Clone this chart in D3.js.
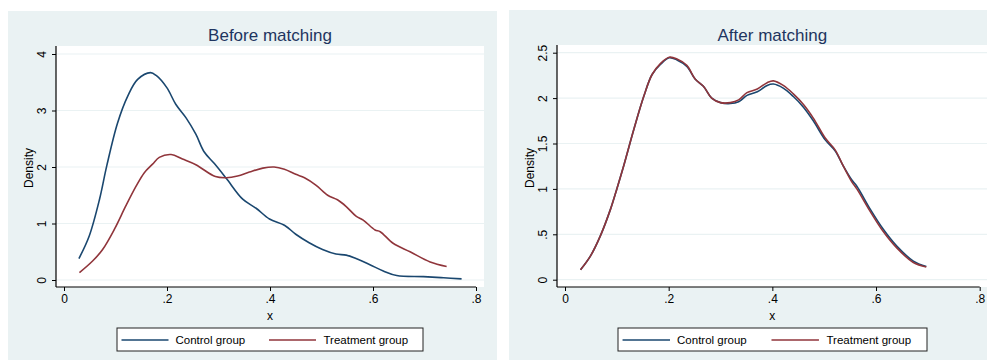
<!DOCTYPE html>
<html lang="en">
<head>
    <meta charset="UTF-8">
    <title>Kernel density before / after matching</title>
    <script src="https://d3js.org/d3.v7.min.js"></script>
    <style>
        body { margin: 0; background: #fff; }
        text { font-family: 'Liberation Sans', Arial, sans-serif; }
    </style>
</head>
<body>
<script>
    const width  = 987;
    const height = 360;

    const xTicks = [0, .2, .4, .6, .8];
    const xTickLabels = ["0", ".2", ".4", ".6", ".8"];
    const yTicksBefore = [0, 1, 2, 3, 4];
    const yTickLabelsBefore = ["0", "1", "2", "3", "4"];
    const yTicksAfter = [0, .5, 1, 1.5, 2, 2.5];
    const yTickLabelsAfter = ["0", ".5", "1", "1.5", "2", "2.5"];
    const seriesNames = ["Control group", "Treatment group"];

    // [x, density]
    const ctrlBefore = [[0.029,0.38],[0.049,0.78],[0.069,1.43],[0.083,2.02],[0.104,2.78],[0.124,3.26],
        [0.143,3.55],[0.168,3.67],[0.179,3.62],[0.200,3.40],[0.217,3.11],[0.237,2.87],[0.256,2.58],
        [0.272,2.27],[0.292,2.06],[0.315,1.80],[0.347,1.43],[0.373,1.27],[0.399,1.08],[0.428,0.97],
        [0.450,0.81],[0.476,0.66],[0.502,0.54],[0.528,0.46],[0.548,0.44],[0.567,0.38],[0.594,0.27],
        [0.620,0.16],[0.646,0.08],[0.698,0.06],[0.737,0.04],[0.772,0.02]];
    const treatBefore = [[0.030,0.13],[0.056,0.34],[0.075,0.54],[0.098,0.90],[0.120,1.31],[0.140,1.66],
        [0.156,1.90],[0.172,2.05],[0.185,2.17],[0.208,2.22],[0.230,2.14],[0.256,2.04],[0.294,1.83],
        [0.315,1.81],[0.337,1.84],[0.360,1.91],[0.386,1.98],[0.408,2.00],[0.428,1.96],[0.450,1.87],
        [0.467,1.81],[0.489,1.68],[0.512,1.50],[0.531,1.42],[0.548,1.30],[0.567,1.13],[0.581,1.06],
        [0.604,0.885],[0.614,0.855],[0.639,0.65],[0.672,0.50],[0.711,0.32],[0.743,0.24]];
    const ctrlAfter = [[0.030,0.11],[0.049,0.26],[0.068,0.48],[0.088,0.78],[0.100,1.00],[0.113,1.25],
        [0.133,1.66],[0.152,2.02],[0.168,2.26],[0.184,2.37],[0.201,2.445],[0.216,2.42],[0.235,2.35],
        [0.251,2.21],[0.267,2.13],[0.283,2.00],[0.300,1.95],[0.319,1.94],[0.335,1.96],[0.351,2.03],
        [0.371,2.07],[0.390,2.14],[0.402,2.155],[0.421,2.11],[0.440,2.02],[0.460,1.90],[0.479,1.75],
        [0.502,1.54],[0.521,1.42],[0.537,1.25],[0.553,1.10],[0.563,1.03],[0.589,0.775],[0.614,0.555],
        [0.640,0.37],[0.672,0.205],[0.697,0.145]];
    const treatAfter = [[0.030,0.11],[0.049,0.26],[0.068,0.48],[0.088,0.78],[0.100,1.00],[0.113,1.25],
        [0.133,1.66],[0.152,2.02],[0.168,2.26],[0.184,2.38],[0.201,2.45],[0.216,2.43],[0.235,2.36],
        [0.251,2.21],[0.267,2.13],[0.283,2.00],[0.300,1.95],[0.319,1.95],[0.335,1.98],[0.351,2.06],
        [0.371,2.10],[0.390,2.17],[0.402,2.19],[0.421,2.14],[0.440,2.05],[0.460,1.93],[0.479,1.78],
        [0.502,1.56],[0.521,1.43],[0.537,1.25],[0.553,1.08],[0.563,1.00],[0.589,0.75],[0.614,0.53],
        [0.640,0.35],[0.672,0.19],[0.697,0.14]];

    const colors = ["#1a476f", "#90353b"];
    const bg = "#eaf2f3";

    const svg = d3.select("body").append("svg").attr("width", width).attr("height", height);

    draw({
        title: "Before matching", bgBox: [8, 11, 497, 360], plot: [56, 46, 484, 287],
        xRange: [64, 476], yDomain: [0, 4], yRange: [280, 54],
        yTicks: yTicksBefore, yLabels: yTickLabelsBefore,
        series: [ctrlBefore, treatBefore], legend: [117, 328, 423, 351]
    });
    draw({
        title: "After matching", bgBox: [509, 10, 987, 360], plot: [557, 45, 987, 287],
        xRange: [565, 979.7], yDomain: [0, 2.5], yRange: [279.7, 52.7],
        yTicks: yTicksAfter, yLabels: yTickLabelsAfter,
        series: [ctrlAfter, treatAfter], legend: [618, 328, 927, 351]
    });

    function draw(p) {
        const g = svg.append("g");
        const [px0, py0, px1, py1] = p.plot;

        g.append("rect")
            .attr("x", p.bgBox[0]).attr("y", p.bgBox[1])
            .attr("width", p.bgBox[2] - p.bgBox[0]).attr("height", p.bgBox[3] - p.bgBox[1])
            .attr("fill", bg);
        g.append("rect")
            .attr("x", px0).attr("y", py0)
            .attr("width", px1 - px0).attr("height", py1 - py0)
            .attr("fill", "#fff");

        const x = d3.scaleLinear().domain([0, .8]).range(p.xRange);
        const y = d3.scaleLinear().domain(p.yDomain).range(p.yRange);

        // grid
        g.selectAll(".grid").data(p.yTicks).enter().append("line")
            .attr("x1", px0).attr("x2", px1)
            .attr("y1", d => y(d)).attr("y2", d => y(d))
            .attr("stroke", bg).attr("stroke-width", 1.2);

        // x axis
        const xAxis = d3.axisBottom(x).tickValues(xTicks)
            .tickFormat((d, i) => xTickLabels[i]).tickSize(4).tickPadding(3).tickSizeOuter(0);
        const gx = g.append("g").attr("transform", "translate(0," + py1 + ")").call(xAxis);
        gx.select(".domain").remove();
        gx.selectAll("text").attr("font-size", 12).attr("fill", "#000").attr("font-family", null);
        gx.selectAll("line").attr("stroke", "#000");
        g.append("line").attr("x1", px0).attr("x2", p.xRange[1])
            .attr("y1", py1).attr("y2", py1).attr("stroke", "#000").attr("stroke-width", 1.2);

        // y axis
        const yAxis = d3.axisLeft(y).tickValues(p.yTicks)
            .tickFormat((d, i) => p.yLabels[i]).tickSize(4).tickSizeOuter(0);
        const gy = g.append("g").attr("transform", "translate(" + px0 + ",0)").call(yAxis);
        gy.select(".domain").remove();
        gy.selectAll("line").attr("stroke", "#000");
        gy.selectAll("text")
            .attr("x", null).attr("dy", null)
            .attr("transform", "translate(-10,0) rotate(-90)")
            .attr("text-anchor", "middle")
            .attr("font-size", 12).attr("fill", "#000").attr("font-family", null);
        g.append("line").attr("x1", px0).attr("x2", px0)
            .attr("y1", py0).attr("y2", py1).attr("stroke", "#000").attr("stroke-width", 1.2);

        // axis titles
        g.append("text").text("x")
            .attr("x", (p.xRange[0] + p.xRange[1]) / 2).attr("y", 319.5)
            .attr("text-anchor", "middle").attr("font-size", 12);
        g.append("text").text("Density")
            .attr("transform", "translate(" + (px0 - 23) + ",168) rotate(-90)")
            .attr("text-anchor", "middle").attr("font-size", 12);

        // title
        g.append("text").text(p.title)
            .attr("x", (p.xRange[0] + p.xRange[1]) / 2).attr("y", 40.5)
            .attr("text-anchor", "middle").attr("font-size", 17).attr("fill", "#1e3560");

        // curves
        const line = d3.line().x(d => x(d[0])).y(d => y(d[1])).curve(d3.curveCatmullRom);
        p.series.forEach((s, i) => {
            g.append("path").attr("d", line(s))
                .attr("fill", "none").attr("stroke", colors[i]).attr("stroke-width", 1.6);
        });

        // legend
        const [lx0, ly0, lx1, ly1] = p.legend;
        g.append("rect").attr("x", lx0).attr("y", ly0)
            .attr("width", lx1 - lx0).attr("height", ly1 - ly0)
            .attr("fill", "#fff").attr("stroke", "#222").attr("stroke-width", 1);
        const lw = lx1 - lx0;
        const offs = [[4.5, 51.5, 58.5], [152, 199, 206.5]];
        const scale = lw / 306;
        seriesNames.forEach((name, i) => {
            const ly = (ly0 + ly1) / 2 + 0.5;
            g.append("line")
                .attr("x1", lx0 + offs[i][0] * scale).attr("x2", lx0 + offs[i][1] * scale)
                .attr("y1", ly).attr("y2", ly)
                .attr("stroke", colors[i]).attr("stroke-width", 1.6);
            g.append("text").text(name)
                .attr("x", lx0 + offs[i][2] * scale).attr("y", ly + 4)
                .attr("font-size", 11.5).attr("fill", "#000");
        });
    }
</script>
</body>
</html>
